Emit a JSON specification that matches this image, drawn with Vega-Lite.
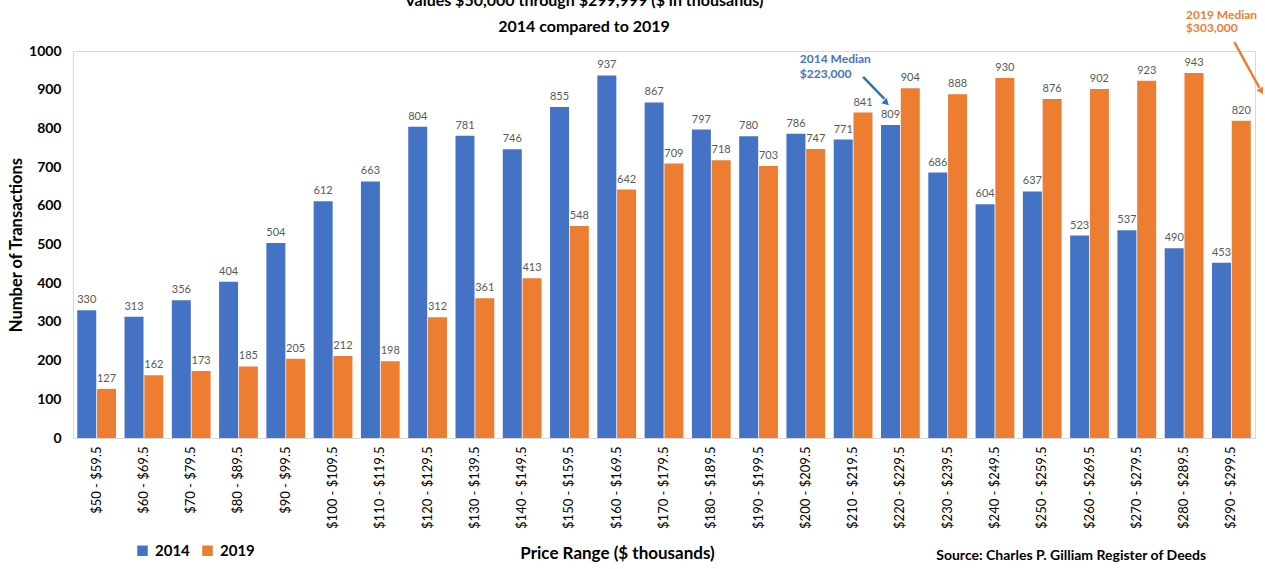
{
  "$schema": "https://vega.github.io/schema/vega-lite/v6.json",
  "autosize": {"type": "none"},
  "padding": {"left": 73, "top": 51, "right": 10, "bottom": 131},
  "width": 1182,
  "height": 387,
  "background": "white",
  "config": {
    "font": "Lato",
    "view": {"stroke": "#D9D9D9", "strokeWidth": 1}
  },
  "title": {
    "text": ["Values $50,000 through $299,999 ($ in thousands)", "2014 compared to 2019"],
    "fontSize": 16,
    "fontWeight": "bold",
    "color": "#000000",
    "lineHeight": 26,
    "frame": "group",
    "offset": -26,
    "dx": -80,
    "anchor": "middle"
  },
  "datasets": {
    "bars": [
      {"range": "$50 - $59.5", "year": "2014", "count": 330},
      {"range": "$60 - $69.5", "year": "2014", "count": 313},
      {"range": "$70 - $79.5", "year": "2014", "count": 356},
      {"range": "$80 - $89.5", "year": "2014", "count": 404},
      {"range": "$90 - $99.5", "year": "2014", "count": 504},
      {"range": "$100 - $109.5", "year": "2014", "count": 612},
      {"range": "$110 - $119.5", "year": "2014", "count": 663},
      {"range": "$120 - $129.5", "year": "2014", "count": 804},
      {"range": "$130 - $139.5", "year": "2014", "count": 781},
      {"range": "$140 - $149.5", "year": "2014", "count": 746},
      {"range": "$150 - $159.5", "year": "2014", "count": 855},
      {"range": "$160 - $169.5", "year": "2014", "count": 937},
      {"range": "$170 - $179.5", "year": "2014", "count": 867},
      {"range": "$180 - $189.5", "year": "2014", "count": 797},
      {"range": "$190 - $199.5", "year": "2014", "count": 780},
      {"range": "$200 - $209.5", "year": "2014", "count": 786},
      {"range": "$210 - $219.5", "year": "2014", "count": 771},
      {"range": "$220 - $229.5", "year": "2014", "count": 809},
      {"range": "$230 - $239.5", "year": "2014", "count": 686},
      {"range": "$240 - $249.5", "year": "2014", "count": 604},
      {"range": "$250 - $259.5", "year": "2014", "count": 637},
      {"range": "$260 - $269.5", "year": "2014", "count": 523},
      {"range": "$270 - $279.5", "year": "2014", "count": 537},
      {"range": "$280 - $289.5", "year": "2014", "count": 490},
      {"range": "$290 - $299.5", "year": "2014", "count": 453},
      {"range": "$50 - $59.5", "year": "2019", "count": 127},
      {"range": "$60 - $69.5", "year": "2019", "count": 162},
      {"range": "$70 - $79.5", "year": "2019", "count": 173},
      {"range": "$80 - $89.5", "year": "2019", "count": 185},
      {"range": "$90 - $99.5", "year": "2019", "count": 205},
      {"range": "$100 - $109.5", "year": "2019", "count": 212},
      {"range": "$110 - $119.5", "year": "2019", "count": 198},
      {"range": "$120 - $129.5", "year": "2019", "count": 312},
      {"range": "$130 - $139.5", "year": "2019", "count": 361},
      {"range": "$140 - $149.5", "year": "2019", "count": 413},
      {"range": "$150 - $159.5", "year": "2019", "count": 548},
      {"range": "$160 - $169.5", "year": "2019", "count": 642},
      {"range": "$170 - $179.5", "year": "2019", "count": 709},
      {"range": "$180 - $189.5", "year": "2019", "count": 718},
      {"range": "$190 - $199.5", "year": "2019", "count": 703},
      {"range": "$200 - $209.5", "year": "2019", "count": 747},
      {"range": "$210 - $219.5", "year": "2019", "count": 841},
      {"range": "$220 - $229.5", "year": "2019", "count": 904},
      {"range": "$230 - $239.5", "year": "2019", "count": 888},
      {"range": "$240 - $249.5", "year": "2019", "count": 930},
      {"range": "$250 - $259.5", "year": "2019", "count": 876},
      {"range": "$260 - $269.5", "year": "2019", "count": 902},
      {"range": "$270 - $279.5", "year": "2019", "count": 923},
      {"range": "$280 - $289.5", "year": "2019", "count": 943},
      {"range": "$290 - $299.5", "year": "2019", "count": 820}
    ]
  },
  "encoding": {
    "x": {
      "field": "range", "type": "nominal", "sort": null,
      "scale": {"paddingInner": 0.18, "paddingOuter": 0.09},
      "axis": {
        "title": "Price Range ($ thousands)",
        "titleFontSize": 17, "titleFontWeight": "bold", "titleColor": "#000000",
        "titleX": 544, "titleY": 107,
        "labelAngle": -90, "labelFontSize": 13, "labelColor": "#000000",
        "labelPadding": 8, "ticks": false,
        "domainColor": "#D9D9D9"
      }
    },
    "y": {
      "field": "count", "type": "quantitative",
      "scale": {"domain": [0, 1000], "nice": false},
      "axis": {
        "title": "Number of Transactions",
        "titleFontSize": 16.5, "titleFontWeight": "bold", "titleColor": "#000000",
        "titlePadding": 4,
        "labelFontSize": 14, "labelFontWeight": "bold", "labelColor": "#000000",
        "labelPadding": 12, "format": "d",
        "labelOverlap": false, "labelSeparation": 0,
        "tickCount": 10, "tickMinStep": 100,
        "ticks": false, "domain": false, "grid": false
      }
    }
  },
  "layer": [
    {
      "data": {"name": "bars"},
      "mark": {"type": "bar"},
      "encoding": {
        "xOffset": {"field": "year", "type": "nominal", "scale": {"paddingInner": 0.04}},
        "color": {
          "field": "year", "type": "nominal",
          "scale": {"domain": ["2014", "2019"], "range": ["#4472C4", "#ED7D31"]},
          "legend": {
            "title": null, "orient": "none", "direction": "horizontal",
            "legendX": 62, "legendY": 492,
            "symbolType": "square", "symbolSize": 110,
            "labelFontSize": 15, "labelFontWeight": "bold", "labelColor": "#000000",
            "columnPadding": 10, "labelOffset": 5
          }
        }
      }
    },
    {
      "data": {"name": "bars"},
      "mark": {"type": "text", "baseline": "bottom", "dy": -5, "fontSize": 11, "color": "#595959"},
      "encoding": {
        "xOffset": {"field": "year", "type": "nominal"},
        "text": {"field": "count", "type": "quantitative"}
      }
    },
    {
      "data": {"values": [
        {"range": "$200 - $209.5", "count": 979, "label": "2014 Median"},
        {"range": "$200 - $209.5", "count": 940, "label": "$223,000"}
      ]},
      "mark": {"type": "text", "align": "left", "baseline": "middle", "dx": -6, "fontSize": 12, "fontWeight": "bold", "color": "#4472C4"},
      "encoding": {
        "text": {"field": "label"}
      }
    },
    {
      "data": {"values": [
        {"range": "$280 - $289.5", "count": 1093, "label": "2019 Median"},
        {"range": "$280 - $289.5", "count": 1059, "label": "$303,000"}
      ]},
      "mark": {"type": "text", "align": "left", "baseline": "middle", "dx": 2, "fontSize": 12, "fontWeight": "bold", "color": "#ED7D31"},
      "encoding": {
        "text": {"field": "label"}
      }
    },
    {
      "data": {"values": [
        {"range": "$210 - $219.5", "range2": "$220 - $229.5", "count": 933, "count2": 876}
      ]},
      "mark": {"type": "rule", "color": "#2E75B6", "strokeWidth": 2.5, "xOffset": 10, "x2Offset": -16},
      "encoding": {
        "x2": {"field": "range2"},
        "y2": {"field": "count2"}
      }
    },
    {
      "data": {"values": [
        {"range": "$220 - $229.5", "count": 866}
      ]},
      "mark": {"type": "point", "shape": "triangle-up", "filled": true, "size": 60, "angle": 134, "color": "#2E75B6", "opacity": 1, "xOffset": -14}
    },
    {
      "data": {"values": [
        {"range": "$290 - $299.5", "range2": "$290 - $299.5", "count": 1023, "count2": 905}
      ]},
      "mark": {"type": "rule", "color": "#ED7D31", "strokeWidth": 2.5, "xOffset": 3, "x2Offset": 28},
      "encoding": {
        "x2": {"field": "range2"},
        "y2": {"field": "count2"}
      }
    },
    {
      "data": {"values": [
        {"range": "$290 - $299.5", "count": 896}
      ]},
      "mark": {"type": "point", "shape": "triangle-up", "filled": true, "size": 60, "angle": 151, "color": "#ED7D31", "opacity": 1, "xOffset": 30}
    },
    {
      "data": {"values": [
        {"range": "$250 - $259.5", "count": -305, "label": "Source: Charles P. Gilliam Register of Deeds"}
      ]},
      "mark": {"type": "text", "align": "center", "baseline": "middle", "dx": 29, "fontSize": 14, "fontWeight": "bold", "color": "#000000"},
      "encoding": {
        "text": {"field": "label"}
      }
    }
  ]
}
